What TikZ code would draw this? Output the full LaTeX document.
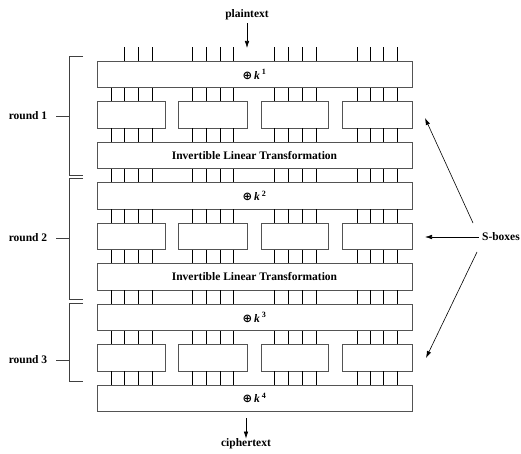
\documentclass[tikz,border=0pt]{standalone}
\usepackage{fontspec}
\setmainfont{Liberation Serif}
\newfontfamily\symfont{DejaVu Sans}
\usetikzlibrary{arrows.meta}
\newcommand{\xork}[1]{{\symfont\bfseries ⊕}\,\textit{k}\,\textsuperscript{#1}}
\begin{document}
\begin{tikzpicture}[x=1pt,y=-1pt,
  txt/.style={font=\fontsize{11.5}{13}\selectfont\bfseries, inner sep=0pt},
  boxw/.style={draw=gray!65!black, line width=0.8pt, minimum width=315pt, minimum height=26.5pt, inner sep=0pt, font=\fontsize{11.5}{13}\selectfont\bfseries},
  sbox/.style={draw=gray!65!black, line width=0.8pt, minimum height=26.5pt, inner sep=0pt},
  wire/.style={draw=black, line width=0.6pt},
  brace/.style={draw=black!75, line width=0.8pt},
  arr/.style={draw=black, line width=0.6pt, -{Latex[length=7pt,width=4.5pt]}}
]
\useasboundingbox (0,0) rectangle (521,454);

% wide boxes
\node[boxw] (k1) at (254.5,74.25) {\xork{1}};
\node[boxw] (l1) at (254.5,155.25) {Invertible Linear Transformation};
\node[boxw] (k2) at (254.5,195.75) {\xork{2}};
\node[boxw] (l2) at (254.5,276.75) {Invertible Linear Transformation};
\node[boxw] (k3) at (254.5,317.25) {\xork{3}};
\node[boxw] (k4) at (254.5,398.25) {\xork{4}};

% S-box rows
\foreach \r/\y in {1/114.75, 2/236.25, 3/357.75} {
  \node[sbox, minimum width=68pt] (s\r a) at (131,\y) {};
  \node[sbox, minimum width=69pt] (s\r b) at (212.5,\y) {};
  \node[sbox, minimum width=67pt] (s\r c) at (294.5,\y) {};
  \node[sbox, minimum width=70pt] (s\r d) at (377,\y) {};
}

% wires between rows
\foreach \g/\xs in {a/{111,124,138,152}, b/{192,206,220,233}, c/{274,288,302,316}, d/{357,370,383,397}} {
  \foreach \x in \xs {
    \foreach \p/\q in {k1/s1\g, s1\g/l1, l1/k2, k2/s2\g, s2\g/l2, l2/k3, k3/s3\g, s3\g/k4}
      \draw[wire] (\p.south -| \x,0) -- (\q.north -| \x,0);
  }
}

% wires above first box
\foreach \x in {124,138,152,192,206,220,233,274,288,302,316,357,370,383,397}
  \draw[wire] (k1.north -| \x,0) -- ++(0,-14);

% plaintext / ciphertext
\node[txt] (pt) at (247,15) {plaintext};
\coordinate (pin) at (247,48);
\draw[arr] (pt.south) ++(0,3) coordinate (pts) (pts) -- (pin);
\node[txt] (ct) at (246,444) {ciphertext};
\coordinate (cout) at (246,418);
\draw[arr] (cout) -- (ct.north);

% round brackets
\draw[brace] (83,56) -- (69,56) -- (69,175) -- (83,175);
\draw[brace] (83,178) -- (69,178) -- (69,299) -- (83,299);
\draw[brace] (83,303) -- (69,303) -- (69,381) -- (83,381);
\node[txt] (rd1) at (28,116) {round 1};
\node[txt] (rd2) at (28,238) {round 2};
\node[txt] (rd3) at (28,360) {round 3};
\draw[brace] (56,116) -- (69,116);
\draw[brace] (56,238) -- (69,238);
\draw[brace] (56,360) -- (69,360);

% S-boxes label and arrows
\node[txt, anchor=east] (sb) at (520,237) {S-boxes};
\coordinate (sbu) at (473,223);
\coordinate (sbl) at (477,252);
\coordinate (tu) at (425,118);
\coordinate (tm) at (425,237);
\coordinate (tl) at (426,358);
\draw[arr] (sbu) -- (tu);
\draw[arr] (sb.west) ++(-3,0) coordinate (sbw) (sbw) -- (tm);
\draw[arr] (sbl) -- (tl);
\end{tikzpicture}
\end{document}
